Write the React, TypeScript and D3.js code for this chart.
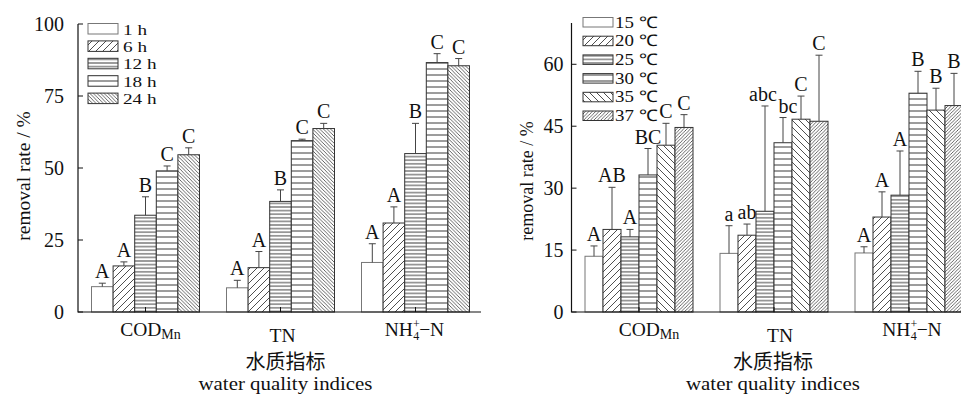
import React, { useEffect, useRef } from "react";
import * as d3 from "d3";

// water quality indices (x categories)
const indices = ["COD", "TN", "NH4"];

// left panel: reaction time
const timeLabels = ["1 h", "6 h", "12 h", "18 h", "24 h"];
const timeMeans = [
  [8.8, 8.4, 17.2],
  [16.0, 15.4, 30.9],
  [33.6, 38.4, 55.0],
  [49.0, 59.5, 86.6],
  [54.6, 63.7, 85.5],
];
const timeErrors = [
  [1.2, 2.6, 6.5],
  [1.4, 5.6, 5.6],
  [6.4, 4.0, 10.5],
  [1.7, 0.5, 3.1],
  [2.4, 1.8, 2.5],
];
const timeLetters = [
  ["A", "A", "A"],
  ["A", "A", "A"],
  ["B", "B", "B"],
  ["C", "C", "C"],
  ["C", "C", "C"],
];
const timeTicks = [0, 25, 50, 75, 100];

// right panel: temperature
const tempLabels = ["15 ℃", "20 ℃", "25 ℃", "30 ℃", "35 ℃", "37 ℃"];
const tempMeans = [
  [13.5, 14.2, 14.3],
  [20.0, 18.6, 23.0],
  [18.2, 24.4, 28.3],
  [33.2, 41.0, 53.0],
  [40.4, 46.7, 48.9],
  [44.7, 46.2, 50.0],
];
const tempErrors = [
  [2.5, 6.7, 1.5],
  [10.2, 2.7, 6.1],
  [1.8, 25.5, 10.7],
  [6.4, 6.1, 5.3],
  [5.3, 5.6, 5.3],
  [3.1, 16.0, 7.8],
];
const tempLetters = [
  ["A", "a", "A"],
  ["AB", "ab", "A"],
  ["A", "abc", "A"],
  ["BC", "bc", "B"],
  ["C", "C", "B"],
  ["C", "C", "B"],
];
const tempTicks = [0, 15, 30, 45, 60];

const SERIF = "'Liberation Serif', 'Times New Roman', serif";
const CJK = "'Noto Sans CJK SC', sans-serif";

function addPatterns(defs) {
  const diag = (id, s, back, w) => {
    const p = defs.append("pattern").attr("id", id)
      .attr("patternUnits", "userSpaceOnUse").attr("width", s).attr("height", s);
    p.append("rect").attr("width", s).attr("height", s).attr("fill", "#fff");
    const d = back
      ? `M0,0L${s},${s}M${s - 1},-1L${s + 1},1M-1,${s - 1}L1,${s + 1}`
      : `M0,${s}L${s},0M-1,1L1,-1M${s - 1},${s + 1}L${s + 1},${s - 1}`;
    p.append("path").attr("d", d).attr("stroke", "#222").attr("stroke-width", w);
  };
  const horiz = (id, s) => {
    const p = defs.append("pattern").attr("id", id)
      .attr("patternUnits", "userSpaceOnUse").attr("width", 8).attr("height", s);
    p.append("rect").attr("width", 8).attr("height", s).attr("fill", "#fff");
    p.append("line").attr("x1", 0).attr("x2", 8).attr("y1", s / 2).attr("y2", s / 2)
      .attr("stroke", "#222").attr("stroke-width", 0.9);
  };
  diag("fwd7", 7, false, 0.8);
  diag("back7", 7, true, 0.8);
  diag("backDense", 3.6, true, 0.7);
  diag("fwdDense", 3.4, false, 0.7);
  horiz("hDense", 3.6);
  horiz("hSparse", 6);
}

function categoryLabel(g, key, x, size) {
  const t = g.append("text").attr("x", x).attr("text-anchor", "middle")
    .style("font-family", SERIF).style("font-size", size + "px").attr("fill", "#111");
  if (key === "COD") {
    t.attr("y", 336);
    t.append("tspan").text("COD");
    t.append("tspan").text("Mn").style("font-size", "14px").attr("dy", 3);
  } else if (key === "TN") {
    t.attr("y", 342).text("TN");
  } else {
    t.attr("y", 336);
    t.append("tspan").text("NH");
    t.append("tspan").text("+").style("font-size", "12px").attr("dy", -8);
    t.append("tspan").text("4").style("font-size", "12px").attr("dx", -6.6).attr("dy", 12);
    t.append("tspan").text("−N").attr("dy", -4);
  }
}

function drawPanel(svg, cfg) {
  const g = svg.append("g");
  const y = d3.scaleLinear().domain(cfg.yDomain).range([312, cfg.yTop]);
  const x = d3.scaleBand().domain(indices).range(cfg.xRange).padding(0);
  const inner = d3.scaleBand().domain(d3.range(cfg.series.length)).range([-54, 54]).padding(0);

  // bars, error bars and letters
  cfg.series.forEach((name, si) => {
    const rows = indices.map((k, ci) => ({
      k, ci, mean: cfg.means[si][ci], err: cfg.errors[si][ci], letter: cfg.letters[si][ci],
    }));
    const left = d => x(d.k) + x.bandwidth() / 2 + inner(si);
    const mid = d => left(d) + inner.bandwidth() / 2;
    g.selectAll(null).data(rows).join("rect")
      .attr("x", d => left(d))
      .attr("y", d => y(d.mean))
      .attr("width", inner.bandwidth())
      .attr("height", d => y(0) - y(d.mean))
      .attr("fill", cfg.patterns[si] ? `url(#${cfg.patterns[si]})` : "#fff")
      .attr("stroke", si === 0 ? "#777" : "#333")
      .attr("stroke-width", 1);
    g.selectAll(null).data(rows).join("path")
      .attr("d", d => `M${mid(d)},${y(d.mean)}V${y(d.mean + d.err)}M${mid(d) - 3.5},${y(d.mean + d.err)}H${mid(d) + 3.5}`)
      .attr("stroke", "#444").attr("stroke-width", 1).attr("fill", "none");
    g.selectAll(null).data(rows).join("text")
      .attr("x", d => mid(d) + ((cfg.letterDx || {})[`${si}-${d.ci}`] || 0))
      .attr("y", d => y(d.mean + d.err) - 5)
      .attr("text-anchor", "middle")
      .style("font-family", SERIF).style("font-size", cfg.letterSize + "px")
      .attr("fill", "#111")
      .text(d => d.letter);
  });

  // axes
  g.append("path")
    .attr("d", `M${cfg.xRange[0]},${cfg.yTop}V312H${cfg.axisEnd}`)
    .attr("stroke", "#111").attr("stroke-width", 1.2).attr("fill", "none");
  g.selectAll(null).data(cfg.ticks).join("line")
    .attr("x1", cfg.xRange[0]).attr("x2", cfg.xRange[0] + 5)
    .attr("y1", d => y(d)).attr("y2", d => y(d))
    .attr("stroke", "#111").attr("stroke-width", 1);
  g.selectAll(null).data(cfg.ticks).join("text")
    .attr("x", cfg.xRange[0] - cfg.tickGap)
    .attr("y", d => y(d)).attr("dy", "0.35em")
    .attr("text-anchor", "end")
    .style("font-family", SERIF).style("font-size", cfg.tickSize + "px")
    .attr("fill", "#111")
    .text(d => d);
  g.selectAll(null).data(indices).join("line")
    .attr("x1", d => x(d) + x.bandwidth() / 2).attr("x2", d => x(d) + x.bandwidth() / 2)
    .attr("y1", 312).attr("y2", 307)
    .attr("stroke", "#111").attr("stroke-width", 1);

  indices.forEach((k, i) => {
    categoryLabel(g, k, x(k) + x.bandwidth() / 2 + cfg.labelShift[i], 19.5);
  });

  // axis title, printed slightly wide as in the source figure
  const titleX = (cfg.xRange[0] + cfg.xRange[1]) / 2 + cfg.titleShift;
  g.append("text").attr("x", titleX).attr("y", 368.5).attr("text-anchor", "middle")
    .style("font-family", CJK).style("font-size", "20px").attr("fill", "#111")
    .text("水质指标");
  g.append("text")
    .attr("transform", `translate(${titleX},390) scale(1.13,1)`)
    .attr("text-anchor", "middle")
    .style("font-family", SERIF).style("font-size", "18.5px").attr("fill", "#111")
    .text("water quality indices");

  g.append("text")
    .attr("transform", `translate(${cfg.yLabel[0]},${cfg.yLabel[1]}) rotate(-90)`)
    .attr("text-anchor", "middle")
    .style("font-family", SERIF).style("font-size", cfg.yLabelSize + "px")
    .attr("fill", "#111")
    .text("removal rate / %");

  // legend
  const lg = g.append("g");
  cfg.series.forEach((name, si) => {
    const top = cfg.legend.top + cfg.legend.step * si;
    lg.append("rect")
      .attr("x", cfg.legend.x).attr("y", top)
      .attr("width", 30).attr("height", cfg.legend.h)
      .attr("fill", cfg.patterns[si] ? `url(#${cfg.patterns[si]})` : "#fff")
      .attr("stroke", si === 0 ? "#777" : "#333").attr("stroke-width", 1);
    lg.append("text")
      .attr("transform", `translate(${cfg.legend.x + cfg.legend.textDx},${top + cfg.legend.h + 0.5}) scale(${cfg.legend.sx},1)`)
      .style("font-family", SERIF).style("font-size", cfg.legend.size + "px")
      .attr("fill", "#111")
      .text(name);
  });
}

export default function App() {
  const svgRef = useRef(null);

  useEffect(() => {
    const svg = d3.select(svgRef.current);
    svg.selectAll("*").remove();
    addPatterns(svg.append("defs"));

    drawPanel(svg, {
      series: timeLabels, means: timeMeans, errors: timeErrors, letters: timeLetters,
      ticks: timeTicks, yDomain: [0, 100], yTop: 24,
      xRange: [78, 483], axisEnd: 481,
      patterns: [null, "fwd7", "hDense", "hSparse", "backDense"],
      tickSize: 20, tickGap: 14, letterSize: 20,
      labelShift: [5, 2, -1], titleShift: 5,
      yLabel: [30, 176], yLabelSize: 19.5,
      legend: { x: 88, top: 23.5, step: 17.4, h: 10.5, textDx: 35, size: 15, sx: 1.28 },
    });

    drawPanel(svg, {
      series: tempLabels, means: tempMeans, errors: tempErrors, letters: tempLetters,
      ticks: tempTicks, yDomain: [0, 70], yTop: 23,
      xRange: [571.5, 976.5], axisEnd: 961,
      patterns: [null, "fwd7", "hDense", "hSparse", "back7", "fwdDense"],
      tickSize: 20, tickGap: 8, letterSize: 20,
      labelShift: [10, 6, 3], titleShift: -1,
      letterDx: { "2-1": -2, "3-1": 5 },
      yLabel: [533, 181], yLabelSize: 18,
      legend: { x: 583, top: 17.5, step: 18.7, h: 9.5, textDx: 32, size: 16, sx: 1.18 },
    });
  }, []);

  return (
    <svg ref={svgRef} width={961} height={394}
      style={{ position: "absolute", left: 0, top: 0, background: "#fff" }} />
  );
}
